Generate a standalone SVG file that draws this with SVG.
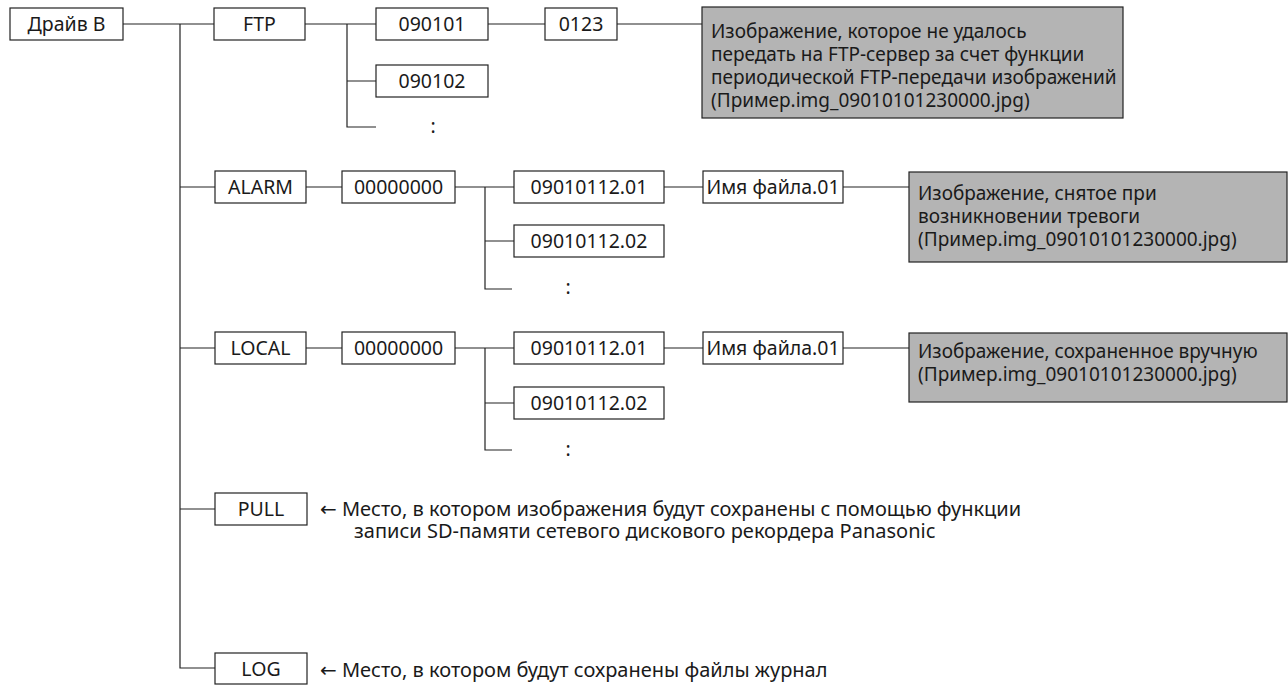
<svg xmlns="http://www.w3.org/2000/svg" width="1288" height="685" viewBox="0 0 1288 685">
<style>
.bx{fill:#fff;stroke:#222;stroke-width:1.2}
.gb{fill:#b4b4b4;stroke:#222;stroke-width:1.2}
.ln{fill:none;stroke:#222;stroke-width:1.2}
text{font-family:"Noto Sans","DejaVu Sans",sans-serif;font-size:19.5px;fill:#1a1a1a}
.c{text-anchor:middle}
.g{font-size:19px}
.n{font-size:20px}
</style>
<rect width="1288" height="685" fill="#fff"/>
<g id="connectors">
<path class="ln" d="M123 24H214M180 24V668H215M180 187H215M180 348H215M180 509H215"/>
<path class="ln" d="M305 24H376M347 24V127H376M347 81H376M488 24H545M617 24H702"/>
<path class="ln" d="M306 187H342M455 187H514M485 187V289H512M485 241H514M664 187H703M843 187H909"/>
<path class="ln" d="M306 348H342M455 348H514M485 348V450H512M485 403H514M664 348H703M843 348H909"/>
</g>
<g id="drive-b"><rect class="bx" x="10" y="8" width="113" height="32"/><text class="c" x="66.5" y="31">Драйв B</text></g>
<g id="ftp"><rect class="bx" x="214" y="8" width="91" height="32"/><text class="c" x="259.5" y="31">FTP</text></g>
<g id="ftp-090101"><rect class="bx" x="376" y="8" width="112" height="32"/><text class="c" x="432" y="31">090101</text></g>
<g id="ftp-0123"><rect class="bx" x="545" y="8" width="72" height="32"/><text class="c" x="581" y="31">0123</text></g>
<g id="ftp-090102"><rect class="bx" x="376" y="65" width="112" height="32"/><text class="c" x="432" y="88">090102</text></g>
<g id="ftp-more"><text class="c" x="433" y="133">:</text></g>
<g id="ftp-note"><rect class="gb" x="702" y="7" width="421" height="111"/>
<text class="g" x="711" y="38"><tspan x="711" y="38">Изображение, которое не удалось</tspan><tspan x="711" y="61">передать на FTP-сервер за счет функции</tspan><tspan x="711" y="84">периодической FTP-передачи изображений</tspan><tspan x="711" y="107">(Пример.img_09010101230000.jpg)</tspan></text></g>
<g id="alarm"><rect class="bx" x="215" y="171" width="91" height="32"/><text class="c" x="260.5" y="194">ALARM</text></g>
<g id="alarm-date"><rect class="bx" x="342" y="171" width="113" height="32"/><text class="c" x="398.5" y="194">00000000</text></g>
<g id="alarm-01"><rect class="bx" x="514" y="171" width="150" height="32"/><text class="c" x="589" y="194">09010112.01</text></g>
<g id="alarm-02"><rect class="bx" x="514" y="225" width="150" height="32"/><text class="c" x="589" y="248">09010112.02</text></g>
<g id="alarm-more"><text class="c" x="568" y="294">:</text></g>
<g id="alarm-file"><rect class="bx" x="703" y="171" width="140" height="32"/><text class="c" x="773" y="194">Имя файла.01</text></g>
<g id="alarm-note"><rect class="gb" x="909" y="172" width="378" height="90"/>
<text class="g" x="918" y="200"><tspan x="918" y="200">Изображение, снятое при</tspan><tspan x="918" y="223">возникновении тревоги</tspan><tspan x="918" y="246">(Пример.img_09010101230000.jpg)</tspan></text></g>
<g id="local"><rect class="bx" x="215" y="332" width="91" height="32"/><text class="c" x="260.5" y="355">LOCAL</text></g>
<g id="local-date"><rect class="bx" x="342" y="332" width="113" height="32"/><text class="c" x="398.5" y="355">00000000</text></g>
<g id="local-01"><rect class="bx" x="514" y="332" width="150" height="32"/><text class="c" x="589" y="355">09010112.01</text></g>
<g id="local-02"><rect class="bx" x="514" y="387" width="150" height="32"/><text class="c" x="589" y="410">09010112.02</text></g>
<g id="local-more"><text class="c" x="568" y="456">:</text></g>
<g id="local-file"><rect class="bx" x="703" y="332" width="140" height="32"/><text class="c" x="773" y="355">Имя файла.01</text></g>
<g id="local-note"><rect class="gb" x="909" y="333" width="378" height="69"/>
<text class="g" x="918" y="358"><tspan x="918" y="358">Изображение, сохраненное вручную</tspan><tspan x="918" y="381">(Пример.img_09010101230000.jpg)</tspan></text></g>
<g id="pull"><rect class="bx" x="215" y="493" width="92" height="32"/><text class="c" x="261" y="516">PULL</text></g>
<g id="pull-note"><text class="n" x="320" y="516"><tspan x="320" y="516">← Место, в котором изображения будут сохранены с помощью функции</tspan><tspan x="354" y="538">записи SD-памяти сетевого дискового рекордера Panasonic</tspan></text></g>
<g id="log"><rect class="bx" x="215" y="653" width="92" height="31"/><text class="c" x="261" y="676">LOG</text></g>
<g id="log-note"><text class="n" x="320" y="677">← Место, в котором будут сохранены файлы журнал</text></g>
</svg>
